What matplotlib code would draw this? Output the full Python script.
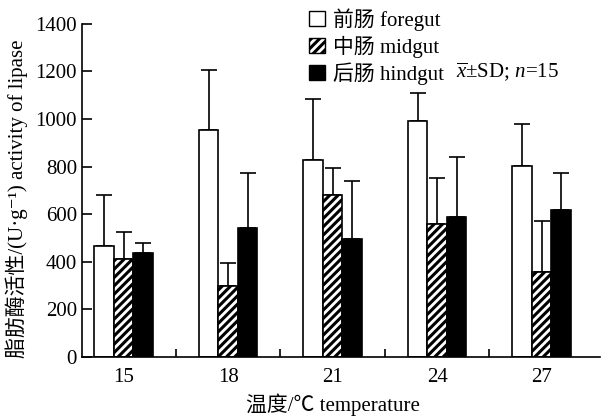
import numpy as np
import matplotlib
matplotlib.use("Agg")
import matplotlib.pyplot as plt
from matplotlib.patches import Patch

plt.rcParams["font.family"] = ["Liberation Serif", "Noto Sans CJK SC", "DejaVu Serif"]
plt.rcParams["mathtext.fontset"] = "custom"
plt.rcParams["mathtext.rm"] = "Liberation Serif"
plt.rcParams["mathtext.it"] = "Liberation Serif:italic"
plt.rcParams["hatch.linewidth"] = 2.2

temps = ["15", "18", "21", "24", "27"]
foregut = [467, 954, 828, 993, 803]
foregut_sd = [213, 253, 257, 116, 178]
midgut = [411, 298, 681, 559, 359]
midgut_sd = [116, 98, 115, 192, 214]
hindgut = [436, 544, 496, 590, 618]
hindgut_sd = [45, 228, 245, 252, 154]

series = [
    ("前肠 foregut", foregut, foregut_sd, "white", ""),
    ("中肠 midgut", midgut, midgut_sd, "white", "////"),
    ("后肠 hindgut", hindgut, hindgut_sd, "black", ""),
]

fig = plt.figure(figsize=(6.02, 4.18), dpi=100)
ax = fig.add_axes([0.136, 0.146, 0.861, 0.797])

x = np.arange(len(temps))
w = 0.187
handles = []
for i, (lab, vals, sd, fc, hatch) in enumerate(series):
    pos = x + (i - 1) * w
    ax.bar(pos, vals, width=w, color=fc, edgecolor="black", linewidth=1.2,
           hatch=hatch, zorder=2)
    ax.errorbar(pos, vals, yerr=[np.zeros(len(sd)), sd], fmt="none",
                ecolor="black", elinewidth=1.2, capsize=5.5, capthick=1.2, zorder=1)
    handles.append(Patch(facecolor=fc, edgecolor="black", hatch=hatch, linewidth=1.0, label=lab))

ax.set_xlim(-0.4, 4.56)
ax.set_ylim(0, 1400)
ax.set_yticks(np.arange(0, 1401, 200))
ax.set_xticks(x)
ax.set_xticklabels(temps)
ax.set_xticks(x[:-1] + 0.5, minor=True)
ax.tick_params(axis="x", which="major", length=0, labelsize=15, pad=8)
ax.tick_params(axis="x", which="minor", direction="in", length=6, width=1.2)
ax.tick_params(axis="y", direction="in", length=7, width=1.2, labelsize=15)
for s in ["top", "right"]:
    ax.spines[s].set_visible(False)
for s in ["left", "bottom"]:
    ax.spines[s].set_linewidth(1.2)

ax.set_xlabel("温度/℃ temperature", fontsize=15)
ax.set_ylabel("脂肪酶活性/(U·g⁻¹) activity of lipase", fontsize=15)
ax.xaxis.label.set_va("center")
ax.yaxis.label.set_va("center")
ax.xaxis.set_label_coords(0.485, -0.144)
ax.yaxis.set_label_coords(-0.125, 0.476)

fig.legend(handles=handles, loc="upper left", bbox_to_anchor=(0.5, 1.0),
           frameon=False, fontsize=15, handlelength=0.75, handleheight=0.75,
           handletextpad=0.4, labelspacing=0.22, borderaxespad=0)
fig.text(0.757, 1 - 72 / 418, r"$\overline{x}$±SD; $n$=15", fontsize=15, va="center")

fig.savefig("out.png", dpi=100)
